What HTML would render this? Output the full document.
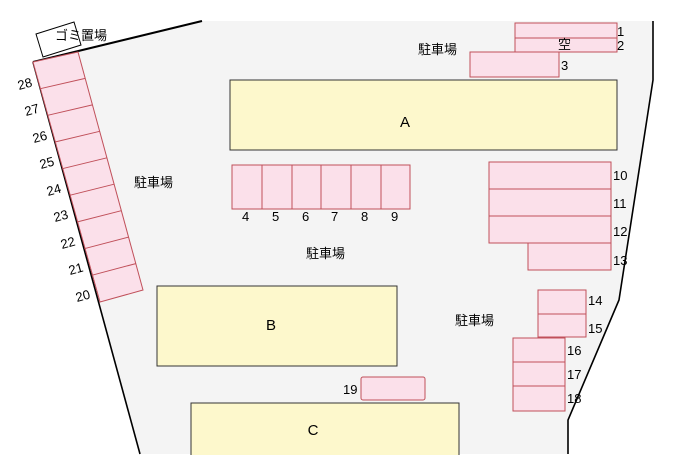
<!DOCTYPE html>
<html><head><meta charset="utf-8"><style>
body{margin:0;background:#fff;}
svg{display:block;font-family:"Liberation Sans","Noto Sans CJK JP",sans-serif;}
</style></head><body>
<svg width="700" height="466" viewBox="0 0 700 466">
<polygon points="33,62 202,21 653,21 653,80 619,300 568,420 568,454 140,454" fill="#f4f4f4"/>
<polyline points="33,62 202,21" stroke="#000" stroke-width="2" fill="none"/>
<polyline points="653,21 653,80 619,300 568,420 568,454" stroke="#000" stroke-width="1.6" fill="none"/>
<line x1="33" y1="62" x2="140" y2="454" stroke="#000" stroke-width="1.6"/>
<polygon points="36,34 74,22 81,45 43,57" fill="#fff" stroke="#000" stroke-width="1"/>
<text x="55" y="40" font-size="13">ゴミ置場</text>
<polygon points="33,62 78,52 143,290 100,302" fill="#fbe0ea" stroke="#c0505a" stroke-width="1"/>
<g stroke="#c0505a" stroke-width="1">
<line x1="40.3" y1="88.7" x2="85.2" y2="78.4"/>
<line x1="47.7" y1="115.3" x2="92.4" y2="104.9"/>
<line x1="55" y1="142" x2="99.7" y2="131.3"/>
<line x1="62.3" y1="168.7" x2="106.9" y2="157.8"/>
<line x1="69.7" y1="195.3" x2="114.1" y2="184.2"/>
<line x1="77" y1="222" x2="121.3" y2="210.7"/>
<line x1="84.3" y1="248.7" x2="128.6" y2="237.1"/>
<line x1="91.7" y1="275.3" x2="135.8" y2="263.6"/>
</g>
<g font-size="13" fill="#000">
<text transform="translate(19,90) rotate(-15)">28</text><text transform="translate(26,116) rotate(-15)">27</text><text transform="translate(34,143) rotate(-15)">26</text>
<text transform="translate(41,169) rotate(-15)">25</text><text transform="translate(48,196) rotate(-15)">24</text><text transform="translate(55,222) rotate(-15)">23</text>
<text transform="translate(62,249) rotate(-15)">22</text><text transform="translate(70,275) rotate(-15)">21</text><text transform="translate(77,302) rotate(-15)">20</text>
</g>
<g fill="#fdf8cc" stroke="#333" stroke-width="1">
<rect x="230" y="80" width="387" height="70"/>
<rect x="157" y="286" width="240" height="80"/>
<rect x="191" y="403" width="268" height="60"/>
</g>
<rect x="0" y="455" width="700" height="11" fill="#fff"/>
<g font-size="15" text-anchor="middle">
<text x="405" y="127">A</text><text x="271" y="330">B</text><text x="313" y="435">C</text>
</g>
<g fill="#fbe0ea" stroke="#c0505a" stroke-width="1">
<rect x="515" y="23" width="102" height="15"/><rect x="515" y="38" width="102" height="14"/>
<rect x="470" y="52" width="89" height="25"/>
<rect x="232" y="165" width="30" height="44"/><rect x="262" y="165" width="30" height="44"/>
<rect x="292" y="165" width="29" height="44"/><rect x="321" y="165" width="30" height="44"/>
<rect x="351" y="165" width="30" height="44"/><rect x="381" y="165" width="29" height="44"/>
<rect x="489" y="162" width="122" height="27"/><rect x="489" y="189" width="122" height="27"/>
<rect x="489" y="216" width="122" height="27"/><rect x="528" y="243" width="83" height="27"/>
<rect x="538" y="290" width="48" height="24"/><rect x="538" y="314" width="48" height="23"/>
<rect x="513" y="338" width="52" height="24"/><rect x="513" y="362" width="52" height="24"/><rect x="513" y="386" width="52" height="25"/>
<rect x="361" y="377" width="64" height="23" rx="2"/>
</g>
<g font-size="13">
<text x="617" y="36">1</text><text x="617" y="50">2</text><text x="561" y="70">3</text>
<text x="558" y="49">空</text>
<text x="242" y="221">4</text><text x="272" y="221">5</text><text x="302" y="221">6</text>
<text x="331" y="221">7</text><text x="361" y="221">8</text><text x="391" y="221">9</text>
<text x="613" y="180">10</text><text x="613" y="208">11</text><text x="613" y="236">12</text><text x="613" y="265">13</text>
<text x="588" y="305">14</text><text x="588" y="333">15</text>
<text x="567" y="355">16</text><text x="567" y="379">17</text><text x="567" y="403">18</text>
<text x="343" y="394">19</text>
<text x="418" y="54">駐車場</text><text x="134" y="187">駐車場</text>
<text x="306" y="258">駐車場</text><text x="455" y="325">駐車場</text>
</g>
</svg>
</body></html>
